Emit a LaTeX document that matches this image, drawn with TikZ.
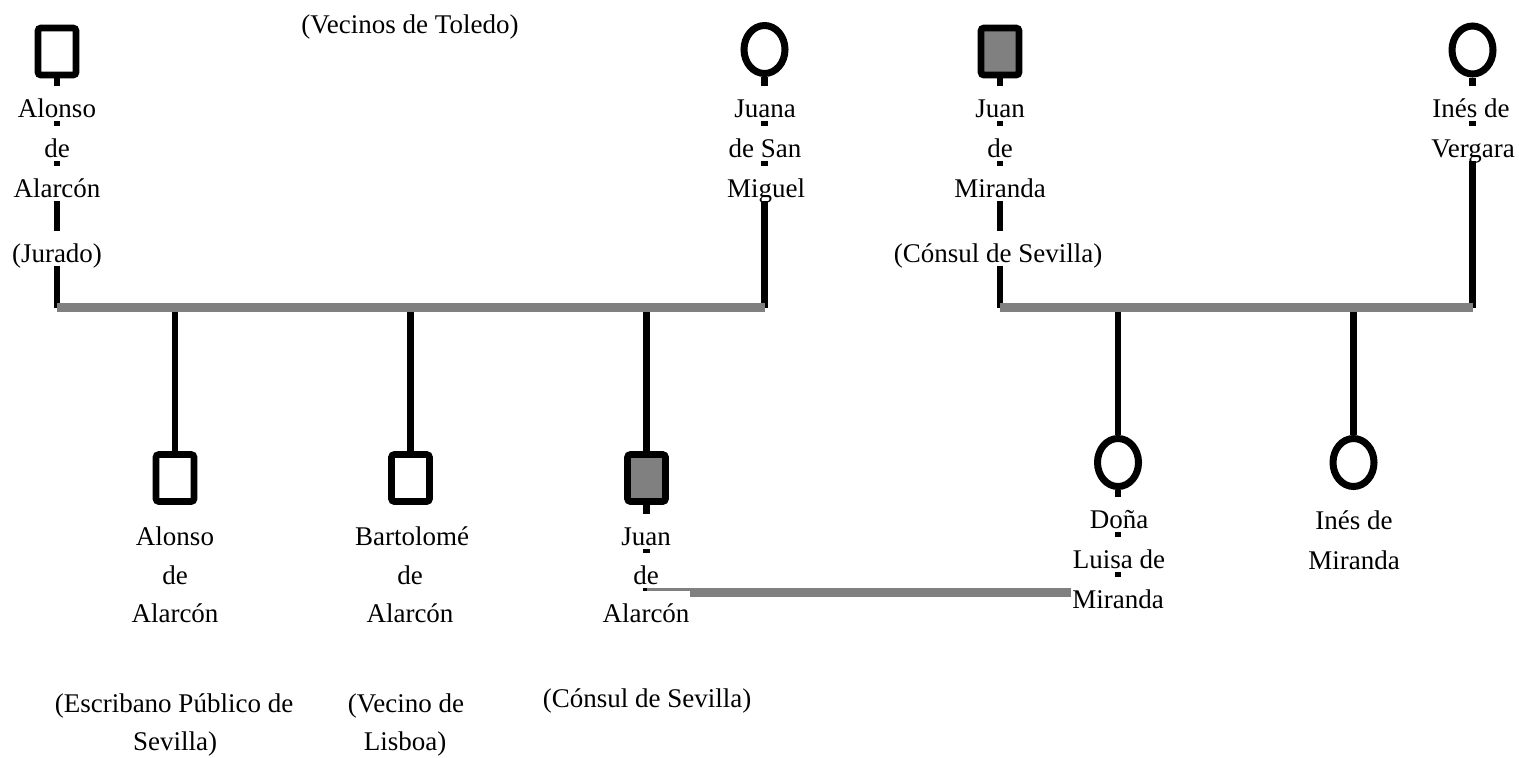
\documentclass[tikz,border=0pt]{standalone}
\usepackage{fontspec}
\setmainfont{Liberation Serif}
\usetikzlibrary{shapes.geometric}
\definecolor{bargray}{HTML}{808080}
\begin{document}
\begin{tikzpicture}[x=0.5pt,y=-0.5pt,
  male/.style={draw=black, line width=3.4pt, rectangle, rounded corners=1.5pt,
    minimum width=19pt, minimum height=23.5pt, inner sep=0pt, fill=white},
  maleg/.style={male, fill=bargray},
  female/.style={draw=black, line width=3.5pt, ellipse, minimum width=20.5pt,
    minimum height=24pt, inner sep=0pt, fill=white},
  vline/.style={line width=3.3pt, black},
  bar/.style={line width=4.2pt, bargray},
  txt/.style={fill=white, inner xsep=0.5pt, inner ysep=0pt, text height=15.5pt,
    text depth=2pt, anchor=base, font=\fontsize{13.5pt}{16pt}\selectfont}]

\useasboundingbox (0,0) rectangle (1519,757);

% parents
\node[male]   (aa) at (57,51.5)    {};
\node[female] (js) at (764.5,49.5) {};
\node[maleg]  (jm) at (1000,51.5)  {};
\node[female] (iv) at (1472.5,50)  {};
% children
\node[male]   (ac) at (175,478)    {};
\node[male]   (ba) at (410.5,478)  {};
\node[maleg]  (ja) at (646.5,478)  {};
\node[female] (dl) at (1118,462.5) {};
\node[female] (im) at (1353.5,462.5) {};

% family bars and the marriage line
\coordinate (famA) at (0,307.5);
\coordinate (famB) at (0,307.5);
\coordinate (wed)  at (0,592.5);

% parents down to their bars
\draw[vline] (aa.south) -- (aa |- famA);
\draw[vline] (js.south) -- (js |- famA);
\draw[vline] (jm.south) -- (jm |- famB);
\draw[vline] (iv.south) -- (iv |- famB);
% bars down to the children
\draw[vline] (ac |- famA) -- (ac.north);
\draw[vline] (ba |- famA) -- (ba.north);
\draw[vline] (ja |- famA) -- (ja.north);
\draw[vline] (dl |- famB) -- (dl.north);
\draw[vline] (im |- famB) -- (im.north);
% spouses down to the marriage line
\draw[vline] (ja.south) -- (ja |- wed);
\draw[vline] (dl.south) -- (dl |- wed);

\draw[bar] (aa |- famA) -- (js |- famA);
\draw[bar] (jm |- famB) -- (iv |- famB);
\draw[bar, line width=4.4pt] (ja |- wed) -- (dl |- wed);

% names and titles
\node[txt] (t01) at (57,117) {Alonso};
\node[txt] (t02) at (57,157) {de};
\node[txt] (t03) at (57,197) {Alarcón};
\node[txt] (t04) at (57,262) {(Jurado)};

\node[txt] (t05) at (410,33) {(Vecinos de Toledo)};

\node[txt] (t06) at (765,117) {Juana};
\node[txt] (t07) at (765,157) {de San};
\node[txt] (t08) at (766,197) {Miguel};

\node[txt] (t09) at (1000,117) {Juan};
\node[txt] (t10) at (1000,157) {de};
\node[txt] (t11) at (1000,197) {Miranda};
\node[txt] (t12) at (998,262)  {(Cónsul de Sevilla)};

\node[txt] (t13) at (1471,117) {Inés de};
\node[txt] (t14) at (1473,157) {Vergara};

\node[txt] (t15) at (175,545) {Alonso};
\node[txt] (t16) at (175,584) {de};
\node[txt] (t17) at (175,622) {Alarcón};
\node[txt] (t18) at (174,712) {(Escribano Público de};
\node[txt] (t19) at (175,750) {Sevilla)};

\node[txt] (t20) at (412,545) {Bartolomé};
\node[txt] (t21) at (410,584) {de};
\node[txt] (t22) at (410,622) {Alarcón};
\node[txt] (t23) at (406,712) {(Vecino de};
\node[txt] (t24) at (405,750) {Lisboa)};

\node[txt] (t25) at (646,545) {Juan};
\node[txt] (t26) at (646,584) {de};
\node[txt] (t27) at (646,622) {Alarcón};
\node[txt] (t28) at (647,707) {(Cónsul de Sevilla)};

\node[txt] (t29) at (1119,528) {Doña};
\node[txt] (t30) at (1119,568) {Luisa de};
\node[txt] (t31) at (1118,608) {Miranda};

\node[txt] (t32) at (1354,529) {Inés de};
\node[txt] (t33) at (1354,569) {Miranda};
\end{tikzpicture}
\end{document}
